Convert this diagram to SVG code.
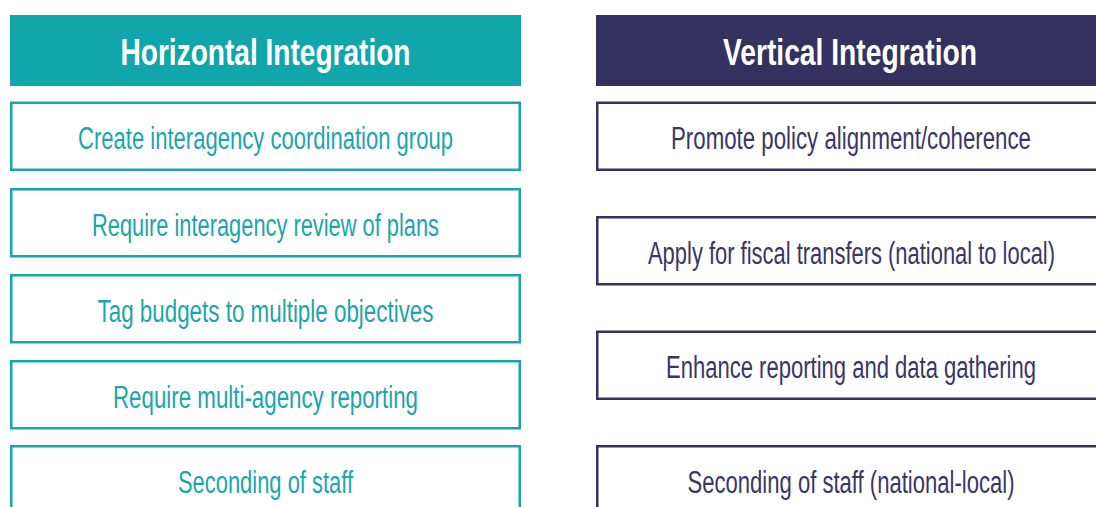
<svg xmlns="http://www.w3.org/2000/svg" width="1096" height="507" viewBox="0 0 1096 507">
<style>
.hdr{font-family:"Liberation Sans",Arial,sans-serif;font-weight:bold;font-size:37px;fill:#ffffff;text-anchor:middle}
.lbl{font-family:"Liberation Sans",Arial,sans-serif;font-size:31px;text-anchor:middle}
.hbox{fill:#ffffff;stroke:#14A7AC;stroke-width:2.5}
.vbox{fill:#ffffff;stroke:#36325F;stroke-width:2.5}
.ht{fill:#1AA6AB}
.vt{fill:#3A3665}
</style>
<rect width="1096" height="507" fill="#ffffff"/>
<g id="horizontal-header">
<rect x="10" y="15" width="511" height="71" fill="#11A6AA"/>
<text class="hdr" x="265.5" y="65" textLength="290" lengthAdjust="spacingAndGlyphs">Horizontal Integration</text>
</g>
<g id="vertical-header">
<rect x="596" y="15" width="500" height="71" fill="#35315F"/>
<text class="hdr" x="850" y="65" textLength="254" lengthAdjust="spacingAndGlyphs">Vertical Integration</text>
</g>
<g id="h1"><rect class="hbox" x="11.25" y="102.75" width="508.5" height="67"/><text class="lbl ht" x="265.5" y="149" textLength="375" lengthAdjust="spacingAndGlyphs">Create interagency coordination group</text></g>
<g id="h2"><rect class="hbox" x="11.25" y="189.25" width="508.5" height="67"/><text class="lbl ht" x="265.5" y="235.5" textLength="347" lengthAdjust="spacingAndGlyphs">Require interagency review of plans</text></g>
<g id="h3"><rect class="hbox" x="11.25" y="275.25" width="508.5" height="67"/><text class="lbl ht" x="265.5" y="321.5" textLength="336" lengthAdjust="spacingAndGlyphs">Tag budgets to multiple objectives</text></g>
<g id="h4"><rect class="hbox" x="11.25" y="361.25" width="508.5" height="67"/><text class="lbl ht" x="265.5" y="407.5" textLength="305" lengthAdjust="spacingAndGlyphs">Require multi-agency reporting</text></g>
<g id="h5"><rect class="hbox" x="11.25" y="446.25" width="508.5" height="62.5"/><text class="lbl ht" x="265.5" y="492.5" textLength="175" lengthAdjust="spacingAndGlyphs">Seconding of staff</text></g>
<g id="v1"><rect class="vbox" x="597.25" y="102.75" width="500.5" height="67"/><text class="lbl vt" x="851" y="149" textLength="360" lengthAdjust="spacingAndGlyphs">Promote policy alignment/coherence</text></g>
<g id="v2"><rect class="vbox" x="597.25" y="217.25" width="500.5" height="67"/><text class="lbl vt" x="851.5" y="263.5" textLength="407" lengthAdjust="spacingAndGlyphs">Apply for fiscal transfers (national to local)</text></g>
<g id="v3"><rect class="vbox" x="597.25" y="331.75" width="500.5" height="67"/><text class="lbl vt" x="851" y="378" textLength="370" lengthAdjust="spacingAndGlyphs">Enhance reporting and data gathering</text></g>
<g id="v4"><rect class="vbox" x="597.25" y="446.25" width="500.5" height="62.5"/><text class="lbl vt" x="851" y="492.5" textLength="327" lengthAdjust="spacingAndGlyphs">Seconding of staff (national-local)</text></g>
<g id="connectors"></g>
</svg>
